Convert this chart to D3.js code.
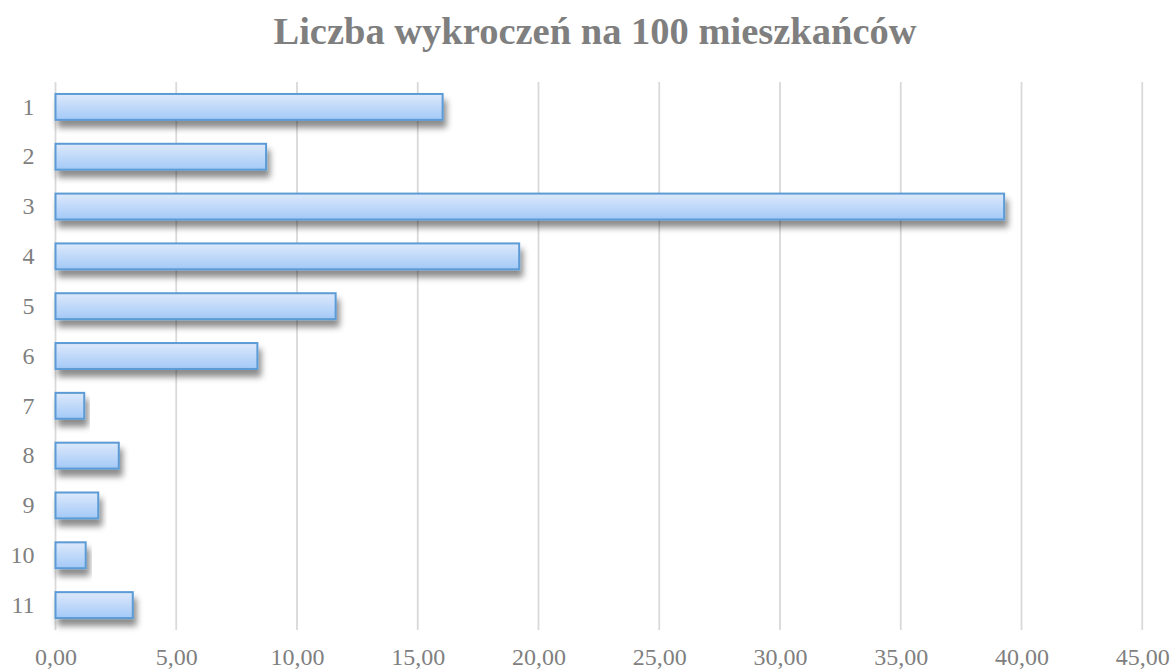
<!DOCTYPE html>
<html>
<head>
<meta charset="utf-8">
<script src="https://cdn.jsdelivr.net/npm/d3@7"></script>
<style>
  body { margin: 0; background: #fff; }
  svg { display: block; }
</style>
</head>
<body>
<svg id="chart" width="1173" height="670"></svg>
<script>
var categories = ['1', '2', '3', '4', '5', '6', '7', '8', '9', '10', '11'];
var values = [16.03, 8.72, 39.28, 19.2, 11.6, 8.36, 1.19, 2.62, 1.77, 1.25, 3.2];
var xTicks = [0, 5, 10, 15, 20, 25, 30, 35, 40, 45];
var title = 'Liczba wykroczeń na 100 mieszkańców';

var margin = {left: 55.5, top: 82, right: 31, bottom: 40};
var width = 1173, height = 670;

var svg = d3.select('#chart');
var defs = svg.append('defs');

var grad = defs.append('linearGradient')
  .attr('id', 'barGrad')
  .attr('x1', 0).attr('y1', 0).attr('x2', 0).attr('y2', 1);
grad.append('stop').attr('offset', '0%').attr('stop-color', '#dde9fb');
grad.append('stop').attr('offset', '100%').attr('stop-color', '#a3c9f7');

var shadow = defs.append('filter')
  .attr('id', 'shadow')
  .attr('x', '-10%').attr('y', '-50%')
  .attr('width', '130%').attr('height', '250%');
shadow.append('feDropShadow')
  .attr('dx', 3).attr('dy', 7)
  .attr('stdDeviation', 3.2)
  .attr('flood-color', '#000')
  .attr('flood-opacity', 0.45);

var x = d3.scaleLinear()
  .domain([0, 45])
  .range([margin.left, margin.left + 24.15 * 45]);

var y = d3.scaleBand()
  .domain(categories)
  .range([margin.top, height - margin.bottom])
  .paddingInner(0.48)
  .paddingOuter(0.24);

// title
svg.append('text')
  .attr('x', 595)
  .attr('y', 44)
  .attr('text-anchor', 'middle')
  .style('font-family', '"Liberation Serif", "Times New Roman", serif')
  .style('font-weight', 'bold')
  .style('font-size', '38.5px')
  .style('fill', '#7f7f7f')
  .text(title);

// gridlines
svg.append('g')
  .selectAll('line')
  .data(xTicks)
  .enter()
  .append('line')
  .attr('x1', function(d){ return x(d); })
  .attr('x2', function(d){ return x(d); })
  .attr('y1', margin.top)
  .attr('y2', height - margin.bottom)
  .style('stroke', '#d9d9d9')
  .style('stroke-width', '1.8px');

// bars
svg.append('g')
  .selectAll('rect')
  .data(values)
  .enter()
  .append('rect')
  .attr('x', x(0))
  .attr('y', function(d, i){ return y(categories[i]); })
  .attr('width', function(d){ return x(d) - x(0); })
  .attr('height', y.bandwidth())
  .style('fill', 'url(#barGrad)')
  .style('stroke', '#5b9bd5')
  .style('stroke-width', '2px')
  .attr('filter', 'url(#shadow)');

// x axis labels
var xAxis = d3.axisBottom(x)
  .tickValues(xTicks)
  .tickSize(0)
  .tickPadding(18)
  .tickFormat(function(d){ return d3.format('.2f')(d).replace('.', ','); });

var gx = svg.append('g')
  .attr('transform', 'translate(0,' + (height - margin.bottom) + ')')
  .call(xAxis);
gx.select('.domain').remove();
gx.selectAll('text')
  .style('font-family', '"Liberation Serif", "Times New Roman", serif')
  .style('font-size', '24px')
  .style('fill', '#7f7f7f');

// y axis labels
var yAxis = d3.axisLeft(y)
  .tickSize(0)
  .tickPadding(21);

var gy = svg.append('g')
  .attr('transform', 'translate(' + margin.left + ',0)')
  .call(yAxis);
gy.select('.domain').remove();
gy.selectAll('text')
  .style('font-family', '"Liberation Serif", "Times New Roman", serif')
  .style('font-size', '24px')
  .style('fill', '#7f7f7f');
</script>
</body>
</html>
